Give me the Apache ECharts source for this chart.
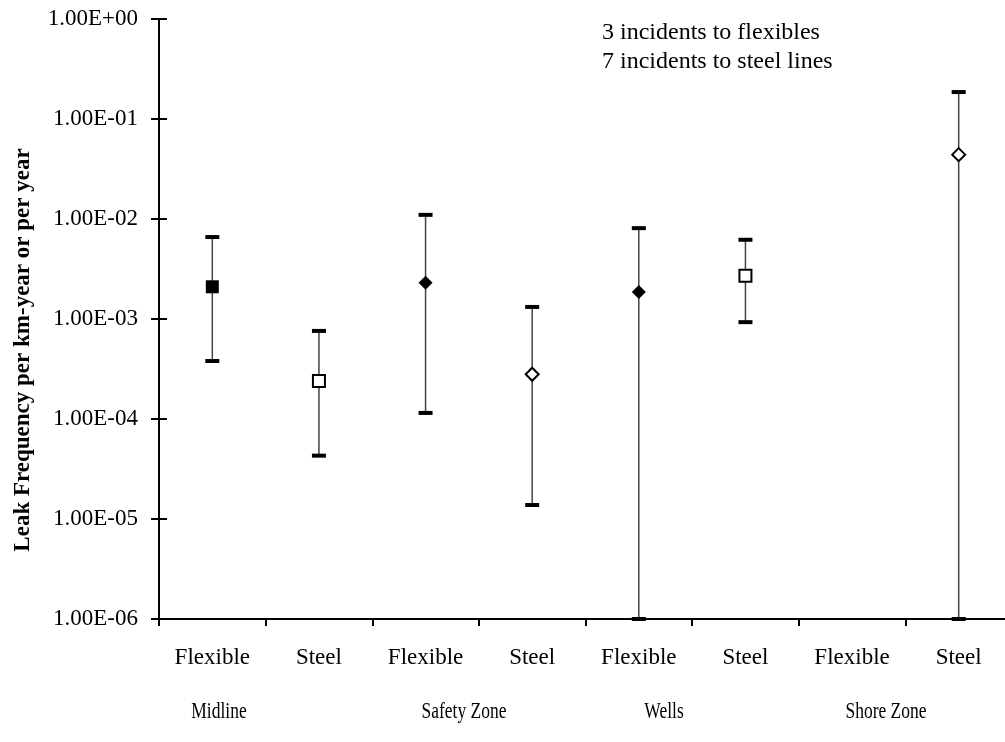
<!DOCTYPE html>
<html>
<head>
<meta charset="utf-8">
<title>Leak Frequency</title>
<script src="https://cdn.jsdelivr.net/npm/echarts@6/dist/echarts.min.js"></script>
<style>
  html, body { margin: 0; padding: 0; background: #fff; }
  #chart { width: 1005px; height: 742px; }
</style>
</head>
<body>
<div id="chart"></div>
<script>
// Pipeline categories along the x axis, grouped by location
const categories = ['Flexible', 'Steel', 'Flexible', 'Steel', 'Flexible', 'Steel', 'Flexible', 'Steel'];
const groupLabels = ['Midline', 'Safety Zone', 'Wells', 'Shore Zone'];

// Best estimate and confidence bounds of leak frequency (per km-year or per year)
const estimate   = [2.1e-3, 2.4e-4, 2.3e-3, 2.8e-4, 1.86e-3, 2.7e-3, null, 4.4e-2];
const lowerBound = [3.8e-4, 4.3e-5, 1.15e-4, 1.38e-5, 1e-6, 9.3e-4, null, 1e-6];
const upperBound = [6.6e-3, 7.6e-4, 1.1e-2, 1.32e-3, 8.1e-3, 6.2e-3, null, 1.86e-1];
const markerKind = ['filledSquare', 'openSquare', 'filledDiamond', 'openDiamond',
                    'filledDiamond', 'openSquare', null, 'openDiamond'];

const notes = ['3 incidents to flexibles', '7 incidents to steel lines'];
const yAxisTitle = 'Leak Frequency per km-year or per year';

const FONT = '"Liberation Serif", "Times New Roman", serif';

function sciLabel(v) {
  const e = Math.round(Math.log10(v));
  const sign = e < 0 ? '-' : '+';
  const a = Math.abs(e);
  return '1.00E' + sign + (a < 10 ? '0' + a : '' + a);
}

const markerStyles = {
  filledSquare:  { symbol: 'rect',    size: 13, color: '#000', border: 0 },
  openSquare:    { symbol: 'rect',    size: 12, color: '#fff', border: 2 },
  filledDiamond: { symbol: 'diamond', size: 14, color: '#000', border: 0 },
  openDiamond:   { symbol: 'diamond', size: 13, color: '#fff', border: 2 }
};

const errorData = [];
categories.forEach((c, i) => {
  if (lowerBound[i] != null && upperBound[i] != null) {
    errorData.push([i, lowerBound[i], upperBound[i]]);
  }
});

const markerSeries = Object.keys(markerStyles).map(kind => {
  const st = markerStyles[kind];
  const data = [];
  categories.forEach((c, i) => {
    if (markerKind[i] === kind && estimate[i] != null) data.push([i, estimate[i]]);
  });
  return {
    type: 'scatter',
    name: kind,
    data: data,
    symbol: st.symbol,
    symbolSize: st.size,
    z: 5,
    itemStyle: { color: st.color, borderColor: '#000', borderWidth: st.border, opacity: 1 },
    emphasis: { disabled: true },
    silent: true
  };
});

const errorSeries = {
  type: 'custom',
  name: 'range',
  data: errorData,
  encode: { x: 0, y: [1, 2] },
  z: 3,
  silent: true,
  renderItem: function (params, api) {
    const x = api.value(0);
    const lo = api.coord([x, api.value(1)]);
    const hi = api.coord([x, api.value(2)]);
    const capW = 14, capH = 4;
    return {
      type: 'group',
      children: [
        { type: 'line', shape: { x1: hi[0], y1: hi[1], x2: lo[0], y2: lo[1] },
          style: { stroke: '#444', lineWidth: 1.5 } },
        { type: 'rect', shape: { x: hi[0] - capW / 2, y: hi[1] - capH / 2, width: capW, height: capH },
          style: { fill: '#000' } },
        { type: 'rect', shape: { x: lo[0] - capW / 2, y: lo[1] - capH / 2, width: capW, height: capH },
          style: { fill: '#000' } }
      ]
    };
  }
};

const groupX = [219, 464, 664, 886];

const chart = echarts.init(document.getElementById('chart'), null, { renderer: 'canvas' });

const yBase = {
  type: 'log',
  logBase: 10,
  min: 1e-6,
  max: 1,
  position: 'left',
  splitLine: { show: false },
  minorTick: { show: false },
  minorSplitLine: { show: false }
};

chart.setOption({
  backgroundColor: '#fff',
  animation: false,
  textStyle: { fontFamily: FONT },
  grid: { left: 159, top: 19, bottom: 123, right: -7, containLabel: false, outerBoundsMode: 'none' },
  xAxis: {
    type: 'category',
    data: categories,
    boundaryGap: true,
    axisLine: { show: true, lineStyle: { color: '#000', width: 2 } },
    axisTick: { show: true, inside: false, length: 7, lineStyle: { color: '#000', width: 2 } },
    axisLabel: { color: '#000', fontFamily: FONT, fontSize: 23, margin: 27, interval: 0 },
    splitLine: { show: false }
  },
  yAxis: [
    Object.assign({}, yBase, {
      axisLine: { show: true, lineStyle: { color: '#000', width: 2 } },
      axisTick: { show: true, inside: false, length: 8, lineStyle: { color: '#000', width: 2 } },
      axisLabel: { color: '#000', fontFamily: FONT, fontSize: 23, margin: 21, formatter: sciLabel }
    }),
    Object.assign({}, yBase, {
      axisLine: { show: false },
      axisTick: { show: true, inside: true, length: 8, lineStyle: { color: '#000', width: 2 } },
      axisLabel: { show: false }
    })
  ],
  series: [errorSeries].concat(markerSeries),
  graphic: [
    {
      type: 'text',
      x: 23, y: 350,
      rotation: Math.PI / 2,
      style: { text: yAxisTitle, fill: '#000', font: 'bold 23px ' + FONT,
               align: 'center', verticalAlign: 'middle' }
    },
    {
      type: 'text',
      x: 602, y: 33,
      style: { text: notes[0], fill: '#000', font: '24px ' + FONT, align: 'left', verticalAlign: 'middle' }
    },
    {
      type: 'text',
      x: 602, y: 62,
      style: { text: notes[1], fill: '#000', font: '24px ' + FONT, align: 'left', verticalAlign: 'middle' }
    }
  ].concat(groupLabels.map((g, k) => ({
    type: 'text',
    x: groupX[k], y: 712,
    scaleX: 0.76,
    style: { text: g, fill: '#000', font: '23px ' + FONT, align: 'center', verticalAlign: 'middle' }
  })))
});
</script>
</body>
</html>
